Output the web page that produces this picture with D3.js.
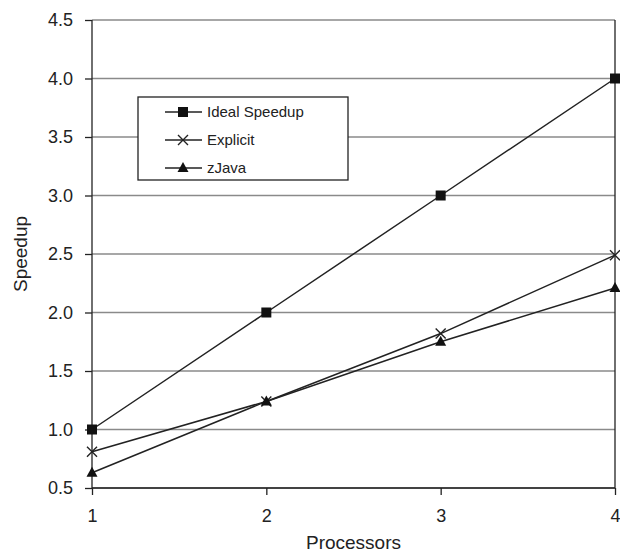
<!DOCTYPE html>
<html><head><meta charset="utf-8">
<script src="https://cdn.jsdelivr.net/npm/d3@7"></script>
<style>body{margin:0;background:#fff}svg{display:block}text{font-family:"Liberation Sans",Arial,sans-serif;fill:#222}</style>
</head><body>
<script>
const processors = [1, 2, 3, 4];
const yTicks = [0.5, 1.0, 1.5, 2.0, 2.5, 3.0, 3.5, 4.0, 4.5];
const idealSpeedup = [1.0, 2.0, 3.0, 4.0];
const explicitSpeedup = [0.81, 1.24, 1.82, 2.49];
const zJavaSpeedup = [0.63, 1.24, 1.75, 2.21];
const seriesNames = ["Ideal Speedup", "Explicit", "zJava"];
const seriesMarkers = ["square", "cross", "triangle"];

const W = 620, H = 553;
const m = {left: 92, right: 5, top: 20, bottom: 65};
const svg = d3.select("body").append("svg").attr("width", W).attr("height", H);
const x = d3.scaleLinear().domain([1, 4]).range([m.left, W - m.right]);
const y = d3.scaleLinear().domain([0.5, 4.5]).range([H - m.bottom, m.top]);

// gridlines
svg.append("g").selectAll("line").data(yTicks).join("line")
  .attr("x1", m.left).attr("x2", W - m.right)
  .attr("y1", d => y(d)).attr("y2", d => y(d))
  .attr("stroke", "#8a8a8a").attr("stroke-width", 1.5);
// right border
svg.append("line").attr("x1", x(4)).attr("x2", x(4)).attr("y1", y(4.5)).attr("y2", y(0.5))
  .attr("stroke", "#222").attr("stroke-width", 1.3);

// axes
const yAxis = svg.append("g").attr("transform", `translate(${m.left},0)`)
  .call(d3.axisLeft(y).tickValues(yTicks).tickFormat(d3.format(".1f")).tickSize(7).tickPadding(12));
const xAxis = svg.append("g").attr("transform", `translate(0,${y(0.5)})`)
  .call(d3.axisBottom(x).tickValues(processors).tickFormat(d3.format("d")).tickSize(7).tickPadding(14));
[yAxis, xAxis].forEach(a => {
  a.select(".domain").attr("stroke", "#222").attr("stroke-width", 1.3);
  a.selectAll(".tick line").attr("stroke", "#222").attr("stroke-width", 1.3);
  a.selectAll("text").attr("font-size", 18).attr("fill", "#222")
    .attr("font-family", '"Liberation Sans", Arial, sans-serif');
});
xAxis.selectAll(".domain").attr("d", `M${x(1)},0H${x(4)}`);
yAxis.selectAll(".domain").attr("d", `M0,${y(0.5)}V${y(4.5)}`);

// axis titles
svg.append("text").attr("x", (x(1) + x(4)) / 2).attr("y", 549).attr("text-anchor", "middle")
  .attr("font-size", 19).text("Processors");
svg.append("text").attr("transform", `translate(27,${(y(0.5) + y(4.5)) / 2}) rotate(-90)`)
  .attr("text-anchor", "middle").attr("font-size", 19).text("Speedup");

// markers
function marker(g, type, cx, cy) {
  if (type === "square") {
    g.append("rect").attr("x", cx - 5).attr("y", cy - 5).attr("width", 10).attr("height", 10).attr("fill", "#111");
  } else if (type === "cross") {
    g.append("path").attr("d", `M${cx-5},${cy-5}L${cx+5},${cy+5}M${cx-5},${cy+5}L${cx+5},${cy-5}`)
      .attr("stroke", "#222").attr("stroke-width", 1.4).attr("fill", "none");
  } else {
    g.append("path").attr("d", `M${cx},${cy-6}L${cx+5.5},${cy+4}L${cx-5.5},${cy+4}Z`).attr("fill", "#111");
  }
}

const series = [idealSpeedup, explicitSpeedup, zJavaSpeedup];
const line = d3.line().x((d, i) => x(processors[i])).y(d => y(d));
series.forEach((s, k) => {
  const g = svg.append("g");
  g.append("path").attr("d", line(s)).attr("fill", "none").attr("stroke", "#222").attr("stroke-width", 1.5);
  s.forEach((v, i) => marker(g, seriesMarkers[k], x(processors[i]), y(v)));
});

// legend
const lg = svg.append("g");
lg.append("rect").attr("x", 138).attr("y", 97).attr("width", 210).attr("height", 83)
  .attr("fill", "#fff").attr("stroke", "#222").attr("stroke-width", 1.3);
seriesNames.forEach((n, i) => {
  const cy = 112 + i * 28;
  lg.append("line").attr("x1", 165).attr("x2", 202).attr("y1", cy).attr("y2", cy)
    .attr("stroke", "#222").attr("stroke-width", 1.5);
  marker(lg, seriesMarkers[i], 183, cy);
  lg.append("text").attr("x", 207).attr("y", cy + 5).attr("font-size", 15).text(n);
});
</script>
</body></html>
